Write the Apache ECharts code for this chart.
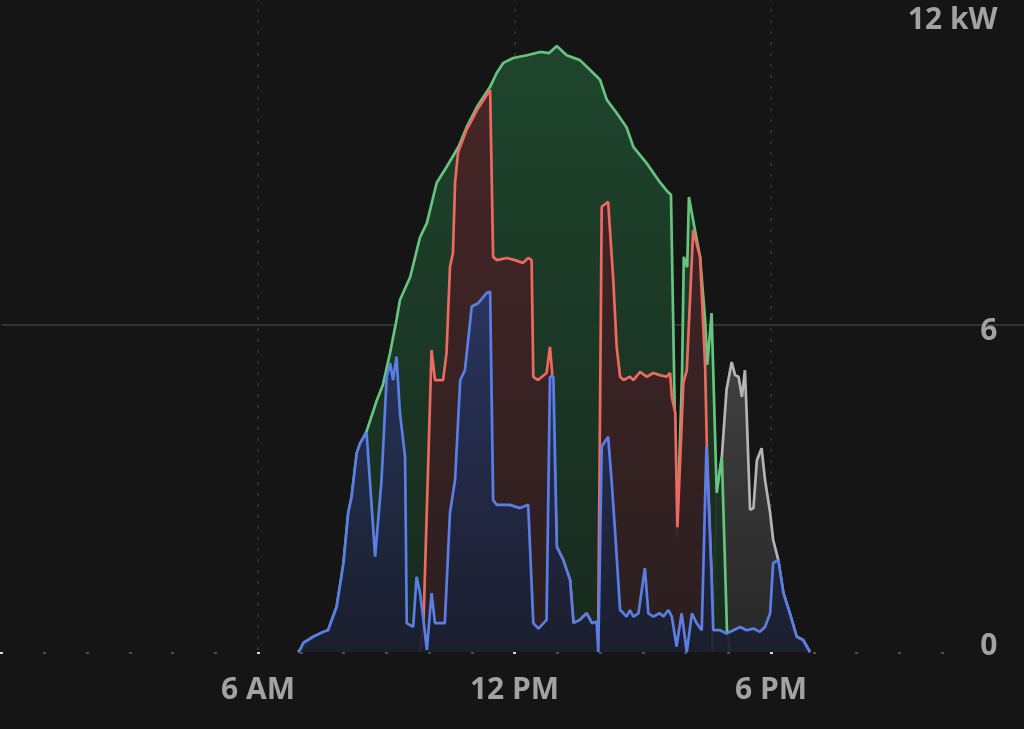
<!DOCTYPE html>
<html>
<head>
<meta charset="utf-8">
<script src="https://cdn.jsdelivr.net/npm/echarts@6/dist/echarts.min.js"></script>
<style>
  html, body { margin: 0; padding: 0; background: #151515; }
  #chart { width: 1024px; height: 729px; }
</style>
</head>
<body>
<div id="chart"></div>
<script>
// ---- Data (hours of day, kW) ----
const solarHours = [6.94,7.29,7.64,7.84,8.00,8.11,8.19,8.31,8.39,8.54,8.78,8.92,9.09,9.24,9.32,9.56,9.79,9.95,10.18,10.41,10.69,10.88,11.12,11.43,11.58,11.74,11.97,12.29,12.60,12.81,12.99,13.22,13.53,13.77,14.00,14.16,14.39,14.62,14.78,15.09,15.40,15.59,15.66,15.80,15.92,15.96,16.04,16.08,16.20,16.34,16.46,16.51,16.61,16.73,16.85,16.97,17.04];
const solarKW    = [0,0.28,0.40,0.83,1.63,2.55,2.85,3.65,3.83,4.05,4.62,4.90,5.49,6.09,6.46,6.88,7.61,7.87,8.61,8.90,9.27,9.63,10.00,10.37,10.62,10.81,10.90,10.95,11.01,10.99,11.12,10.95,10.86,10.68,10.50,10.13,9.89,9.63,9.27,8.97,8.62,8.44,8.39,2.09,5.12,7.25,7.06,8.35,7.83,7.25,6.09,5.27,6.22,2.92,3.58,0.40,0];

const batteryHours = [9.79,9.87,10.06,10.14,10.33,10.41,10.49,10.56,10.61,10.68,10.88,11.12,11.31,11.43,11.50,11.59,11.82,12.01,12.20,12.32,12.40,12.44,12.55,12.75,12.83,12.88,12.99,13.14,13.30,13.38,13.53,13.69,13.81,13.96,14.04,14.19,14.31,14.39,14.47,14.55,14.70,14.78,14.94,15.09,15.25,15.40,15.56,15.64,15.68,15.76,15.81,15.95,16.03,16.18,16.34,16.46,16.50,16.61,16.64];
const batteryKW    = [0,0.50,5.54,4.99,4.99,5.49,7.06,7.32,8.61,9.17,9.58,9.94,10.17,10.31,7.25,7.19,7.23,7.19,7.14,7.23,7.19,5.05,4.99,5.12,5.60,5.12,1.93,1.69,1.32,0.53,0.59,0.71,0.53,0.53,8.17,8.26,6.83,5.60,5.05,4.99,5.05,4.99,5.14,5.05,5.12,5.08,5.05,5.12,4.68,4.39,2.29,4.94,5.17,7.74,7.25,5.23,3.76,1.38,0];

const homeHours = [6.94,6.98,7.06,7.29,7.53,7.64,7.84,8.00,8.11,8.19,8.31,8.39,8.54,8.74,8.89,9.01,9.09,9.16,9.24,9.32,9.44,9.48,9.63,9.71,9.79,9.87,9.95,10.06,10.14,10.37,10.49,10.61,10.73,10.84,11.00,11.15,11.35,11.43,11.50,11.58,11.89,12.13,12.32,12.44,12.56,12.75,12.83,12.91,12.99,13.14,13.30,13.38,13.53,13.69,13.81,13.92,13.96,14.04,14.19,14.27,14.35,14.47,14.55,14.62,14.70,14.78,14.90,15.05,15.13,15.25,15.40,15.48,15.60,15.68,15.79,15.91,16.03,16.15,16.26,16.38,16.49,16.61,16.65,16.81,16.96,17.12,17.28,17.43,17.59,17.74,17.86,17.98,18.05,18.17,18.29,18.44,18.60,18.75,18.91];
const homeKW    = [0,0.04,0.17,0.28,0.37,0.40,0.83,1.63,2.55,2.85,3.65,3.83,4.02,1.75,3.16,5.05,5.30,4.99,5.42,4.39,3.58,0.53,0.46,1.38,1.08,0.59,0.04,1.08,0.53,0.53,2.55,3.16,4.99,5.17,6.34,6.40,6.59,6.61,2.79,2.70,2.70,2.64,2.70,0.53,0.43,0.59,5.05,5.05,1.93,1.69,1.32,0.53,0.59,0.71,0.53,0.56,0,3.77,3.95,3.16,2.24,0.77,0.71,0.65,0.77,0.65,0.71,1.54,0.71,0.65,0.71,0.65,0.77,0.65,0.10,0.71,0,0.71,0.53,0.40,3.77,1.38,0.40,0.40,0.34,0.40,0.46,0.40,0.43,0.37,0.46,0.71,1.63,1.69,1.08,0.71,0.28,0.22,0];

const gridHours = [16.64,16.73,16.85,16.96,17.08,17.16,17.24,17.32,17.39,17.43,17.51,17.59,17.67,17.78,17.86,17.98,18.05,18.17,18.29,18.44,18.60,18.75,18.91];
const gridKW    = [0.40,2.92,3.58,4.81,5.32,5.08,5.05,4.68,5.17,4.39,2.61,2.64,3.52,3.74,3.16,2.55,2.06,1.69,1.08,0.71,0.28,0.22,0];

const xTickValues = [6, 12, 18];
const xTickLabels = ['6 AM', '12 PM', '6 PM'];
const yTickValues = [0, 6, 12];
const yTickLabels = ['0', '6', '12 kW'];

// ---- Chart ----
const pairs = (t, v) => t.map((h, i) => [h, v[i]]);
const grad = (top, bottom) => new echarts.graphic.LinearGradient(0, 0, 0, 1, [
  { offset: 0, color: top }, { offset: 1, color: bottom }
]);

const labelFont = { color: '#a2a2a2', fontSize: 30, fontWeight: 'bold', fontFamily: '"Open Sans", Roboto, "Liberation Sans", sans-serif' };

function areaSeries(name, data, lineColor, fillTop, fillBottom, z) {
  return {
    name, type: 'line', data, showSymbol: false, symbol: 'none', smooth: false, z,
    lineStyle: { color: lineColor, width: 2.7 },
    areaStyle: { color: grad(fillTop, fillBottom), opacity: 1 },
    emphasis: { disabled: true }
  };
}

const chart = echarts.init(document.getElementById('chart'), null, { renderer: 'canvas' });
chart.setOption({
  backgroundColor: '#151515',
  animation: false,
  grid: { left: 1.5, width: 1026, top: -2, height: 654, containLabel: false, outerBoundsMode: 'none' },
  xAxis: {
    type: 'value', min: 0, max: 24, interval: 6,
    axisLine: { show: false },
    axisTick: { show: true, length: 2, lineStyle: { color: '#d8d8d8', width: 3 } },
    minorTick: { show: true, splitNumber: 6, length: 2, lineStyle: { color: '#4e4e4e', width: 3 } },
    splitLine: { show: true, showMinLine: false, showMaxLine: false, lineStyle: { color: '#3a3a3a', width: 1.5, type: [3, 8] } },
    axisLabel: Object.assign({
      margin: 23,
      formatter: v => { const i = xTickValues.indexOf(v); return i >= 0 ? xTickLabels[i] : ''; }
    }, labelFont)
  },
  yAxis: {
    type: 'value', position: 'right', min: 0, max: 12, interval: 6,
    axisLine: { show: false }, axisTick: { show: false },
    splitLine: { show: true, showMinLine: false, showMaxLine: false, lineStyle: { color: '#3e3e3e', width: 1.5 } },
    axisLabel: Object.assign({
      inside: true, margin: 30,
      formatter: v => { const i = yTickValues.indexOf(v); return i >= 0 ? '{t' + i + '|' + yTickLabels[i] + '}' : ''; },
      rich: {
        t0: Object.assign({ padding: [0, 0, 12, 0] }, labelFont),
        t1: Object.assign({ padding: [12, 0, 0, 0] }, labelFont),
        t2: Object.assign({ padding: [44, 0, 0, 0] }, labelFont)
      }
    }, labelFont)
  },
  series: [
    areaSeries('Grid', pairs(gridHours, gridKW), '#b4b4b4', 'rgba(66,66,66,0.95)', 'rgba(40,40,40,0.95)', 1),
    areaSeries('Solar', pairs(solarHours, solarKW), '#66c47e', 'rgba(31,72,46,0.95)', 'rgba(24,42,30,0.95)', 2),
    areaSeries('Powerwall', pairs(batteryHours, batteryKW), '#ec6a60', 'rgba(72,36,38,0.95)', 'rgba(44,30,32,0.95)', 3),
    areaSeries('Home', pairs(homeHours, homeKW), '#5a7ee6', 'rgba(40,54,100,0.92)', 'rgba(26,30,46,0.92)', 4)
  ]
});
</script>
</body>
</html>
